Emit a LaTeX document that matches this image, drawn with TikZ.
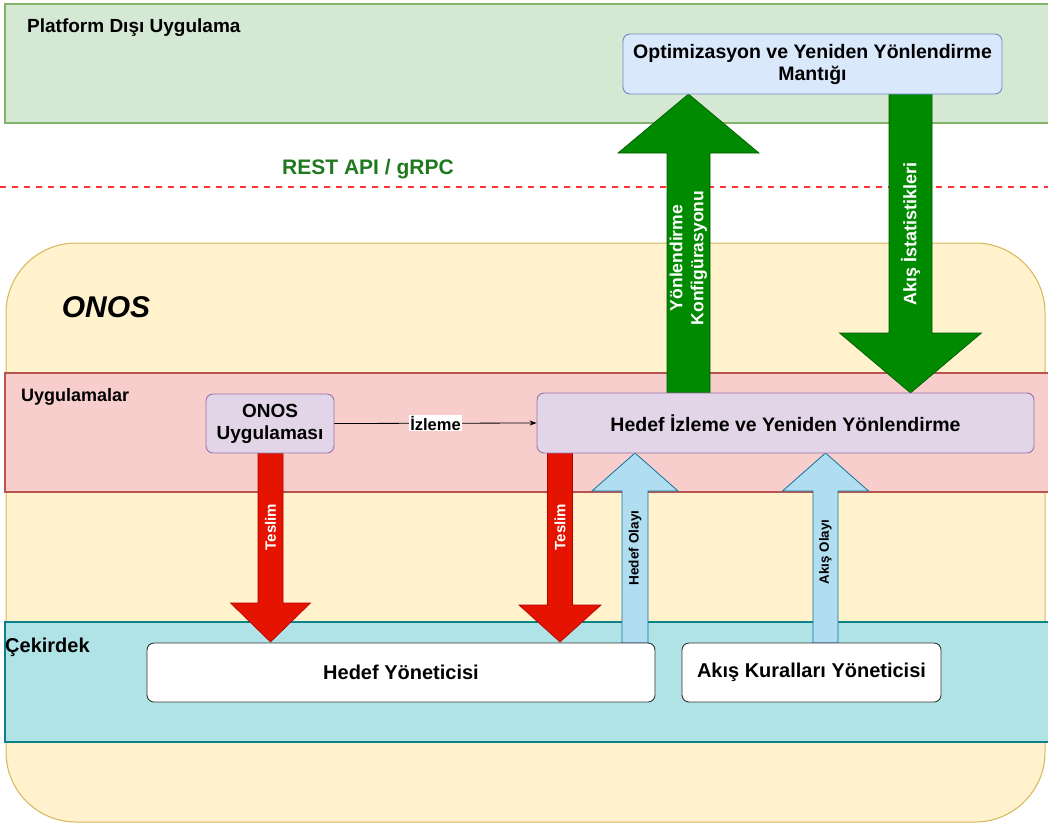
\documentclass[tikz,border=0pt]{standalone}
\usepackage{fontspec}
\setmainfont{Liberation Sans}
\usetikzlibrary{calc,arrows.meta}
\definecolor{grfill}{HTML}{D5E8D4}
\definecolor{grline}{HTML}{82B366}
\definecolor{blfill}{HTML}{DAE8FC}
\definecolor{blline}{HTML}{6C8EBF}
\definecolor{yefill}{HTML}{FFF2CC}
\definecolor{yeline}{HTML}{D6B656}
\definecolor{rdfill}{HTML}{F8CECC}
\definecolor{rdline}{HTML}{B85450}
\definecolor{pufill}{HTML}{E1D5E7}
\definecolor{puline}{HTML}{9673A6}
\definecolor{cyfill}{HTML}{B0E3E6}
\definecolor{cyline}{HTML}{0E8088}
\definecolor{gafill}{HTML}{008A00}
\definecolor{galine}{HTML}{005700}
\definecolor{rafill}{HTML}{E51400}
\definecolor{raline}{HTML}{B20000}
\definecolor{bafill}{HTML}{B1DDF0}
\definecolor{baline}{HTML}{10739E}
\definecolor{dashred}{HTML}{FF3333}
\definecolor{apigreen}{HTML}{1F7A1F}
\newcommand\myBlockArrow[7]{%
  \draw[#1] (#2-#6,#3) -- (#2-#6,#4) -- (#2-#7,#4) -- (#2,#5) -- (#2+#7,#4) -- (#2+#6,#4) -- (#2+#6,#3) -- cycle;}
\newcommand\fsz[1]{\fontsize{#1}{#1*1.15}\selectfont}
\tikzset{
  band/.style={line width=1.6pt},
  rbox/.style={rounded corners=7pt, line width=0.9pt, align=center, inner sep=2pt},
  bandlabel/.style={anchor=west, inner sep=0pt},
  garrow/.style={fill=gafill, draw=galine, line width=0.6pt},
  rarrow/.style={fill=rafill, draw=raline, line width=0.6pt},
  barrow/.style={fill=bafill, draw=baline, line width=0.8pt},
  vtext/.style={rotate=90, align=center, inner sep=0pt},
  stext/.style={rotate=90, inner sep=0pt}
}
\begin{document}
\begin{tikzpicture}[x=1pt,y=-1pt]
\clip (0,0) rectangle (1048,825);
\fill[white] (0,0) rectangle (1048,825);
% bands
\draw[band, fill=grfill, draw=grline] (5,4) rectangle (1070,123);
\node[bandlabel, font=\bfseries\fontsize{19}{22}\selectfont] (plat) at (27,28) {Platform Dışı Uygulama};
\draw[dashed, dash pattern=on 6pt off 6pt, draw=dashred, line width=1.2pt] (0,187) -- (1048,187);
\node[font=\bfseries\fontsize{21}{24}\selectfont, text=apigreen] (api) at (368,169) {REST API / gRPC};
\draw[fill=yefill, draw=yeline, line width=1pt, rounded corners=70pt] (6,243) rectangle (1045,822);
\node[font=\bfseries\itshape\fontsize{30}{34}\selectfont] (onos) at (106,307) {ONOS};
\draw[band, fill=rdfill, draw=rdline] (5,373) rectangle (1070,492);
\node[bandlabel, font=\bfseries\fontsize{18}{21}\selectfont] (uyg) at (21,397) {Uygulamalar};
\draw[band, fill=cyfill, draw=cyline] (5,622) rectangle (1070,742);
\node[bandlabel, font=\bfseries\fontsize{20}{23}\selectfont] (cek) at (5,647) {Çekirdek};
% block arrows
\myBlockArrow{garrow}{688.5}{393}{153}{94}{21.5}{70.5}
\node[vtext, text=white, font=\bfseries\fontsize{17.5}{21}\selectfont] (t1) at (688.5,258) {Yönlendirme\\Konfigürasyonu};
\myBlockArrow{garrow}{910.5}{94}{333}{393}{21.5}{71}
\node[vtext, text=white, font=\bfseries\fontsize{18}{21}\selectfont] (t2) at (910.5,234) {Akış İstatistikleri};
\myBlockArrow{rarrow}{270.5}{453}{603}{642}{12.5}{40}
\node[stext, text=white, font=\bfseries\fontsize{15}{17}\selectfont] (t3) at (270.5,527) {Teslim};
\myBlockArrow{rarrow}{560}{453}{605}{642}{12.5}{41}
\node[stext, text=white, font=\bfseries\fontsize{15}{17}\selectfont] (t4) at (560,527) {Teslim};
\myBlockArrow{barrow}{635}{643}{491}{453}{13}{43}
\node[stext, font=\bfseries\fontsize{13.6}{16}\selectfont] (t5) at (635,548) {Hedef Olayı};
\myBlockArrow{barrow}{825.5}{643}{491}{453}{12.5}{43}
\node[stext, font=\bfseries\fontsize{13.4}{16}\selectfont] (t6) at (825.5,552) {Akış Olayı};
% boxes
\node[rbox, fill=blfill, draw=blline, minimum width=379pt, minimum height=60pt, font=\bfseries\fontsize{19.5}{22}\selectfont] (opt) at (812.5,64) {Optimizasyon ve Yeniden Yönlendirme\\Mantığı};
\node[rbox, fill=pufill, draw=puline, minimum width=128pt, minimum height=59pt, font=\bfseries\fontsize{19}{22}\selectfont] (app) at (270,423.5) {ONOS\\Uygulaması};
\node[rbox, fill=pufill, draw=puline, minimum width=497pt, minimum height=60pt, font=\bfseries\fontsize{19.5}{22}\selectfont] (hedef) at (785.5,423) {Hedef İzleme ve Yeniden Yönlendirme};
\node[rbox, fill=white, draw=black!80, minimum width=508pt, minimum height=59pt, font=\bfseries\fontsize{20}{23}\selectfont] (hy) at (401,672.5) {Hedef Yöneticisi};
\node[rbox, fill=white, draw=black!80, minimum width=259pt, minimum height=59pt, font=\bfseries\fontsize{20}{23}\selectfont] (aky) at (811.5,672.5) {Akış Kuralları Yöneticisi};
\draw[-{Stealth[length=7pt,width=5pt]}, line width=0.8pt] (app.east) -- node[fill=white, inner sep=1pt, font=\bfseries\fontsize{16.5}{19}\selectfont] (izl) {İzleme} (hedef.west);
\end{tikzpicture}
\end{document}
